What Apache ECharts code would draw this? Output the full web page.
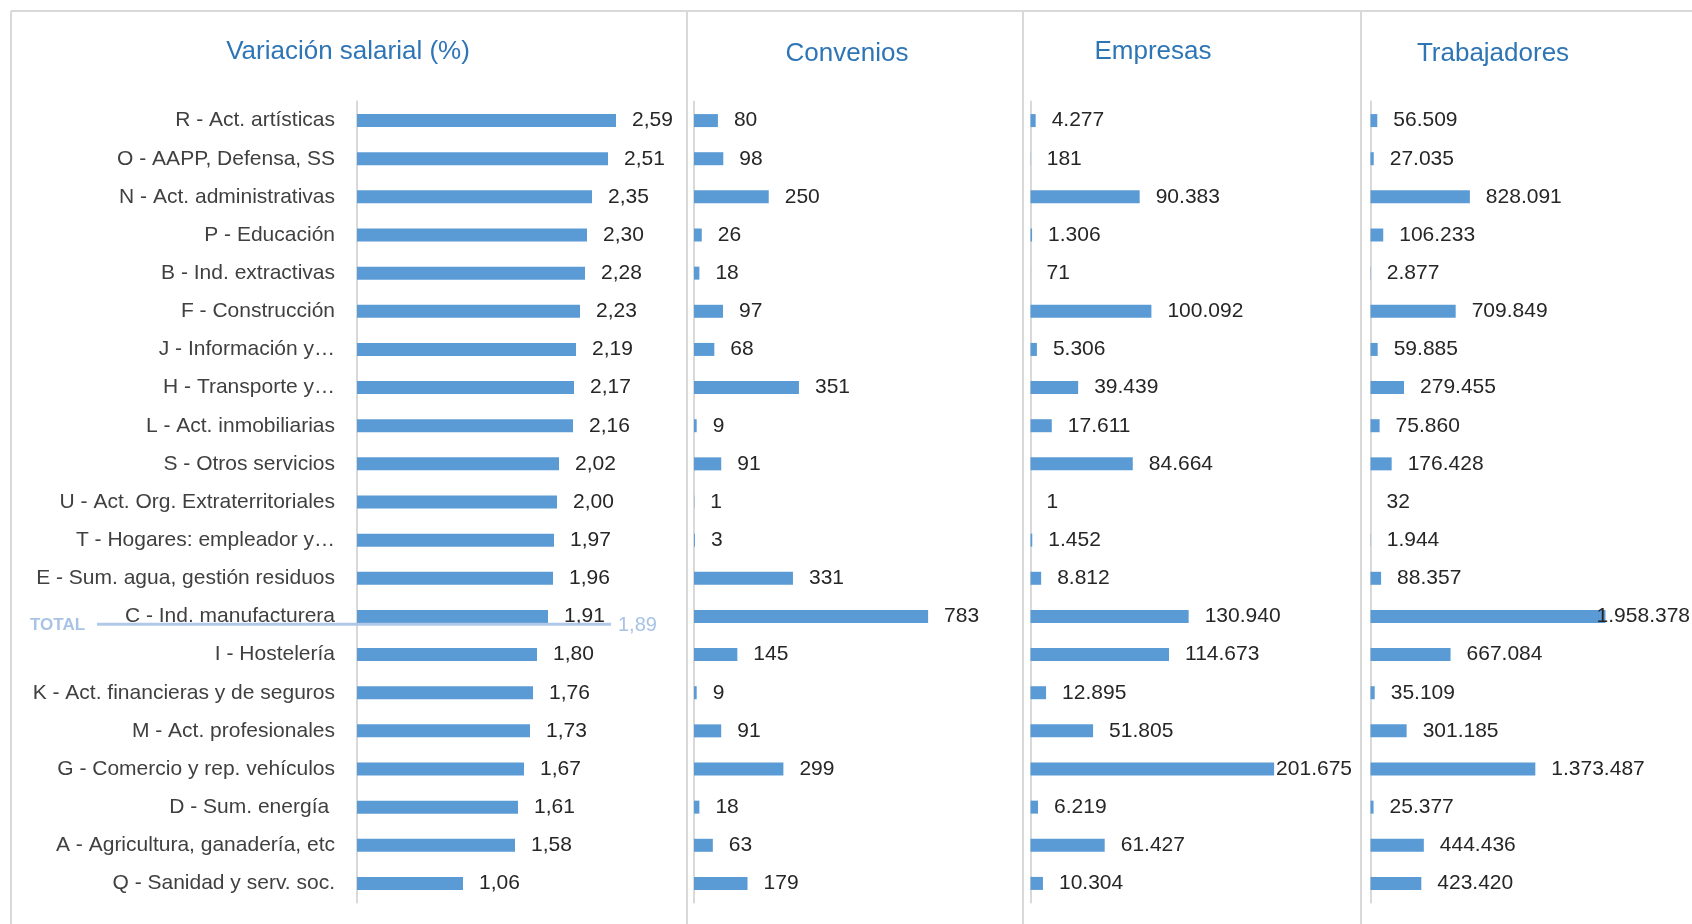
<!DOCTYPE html>
<html><head><meta charset="utf-8">
<script src="https://cdn.jsdelivr.net/npm/echarts@6/dist/echarts.min.js"></script>
<style>html,body{margin:0;padding:0;background:#fff}#c{width:1692px;height:924px}</style>
</head><body><div id="c"></div><script>
const categories = ['R - Act. artísticas', 'O - AAPP, Defensa, SS', 'N - Act. administrativas', 'P - Educación', 'B - Ind. extractivas', 'F - Construcción', 'J - Información y…', 'H - Transporte y…', 'L - Act. inmobiliarias', 'S - Otros servicios', 'U - Act. Org. Extraterritoriales', 'T - Hogares: empleador y…', 'E - Sum. agua, gestión residuos', 'C - Ind. manufacturera', 'I - Hostelería', 'K - Act. financieras y de seguros', 'M - Act. profesionales', 'G - Comercio y rep. vehículos', 'D - Sum. energía ', 'A - Agricultura, ganadería, etc', 'Q - Sanidad y serv. soc.'];
const variacion = [2.59, 2.51, 2.35, 2.30, 2.28, 2.23, 2.19, 2.17, 2.16, 2.02, 2.00, 1.97, 1.96, 1.91, 1.80, 1.76, 1.73, 1.67, 1.61, 1.58, 1.06];
const convenios = [80, 98, 250, 26, 18, 97, 68, 351, 9, 91, 1, 3, 331, 783, 145, 9, 91, 299, 18, 63, 179];
const empresas = [4277, 181, 90383, 1306, 71, 100092, 5306, 39439, 17611, 84664, 1, 1452, 8812, 130940, 114673, 12895, 51805, 201675, 6219, 61427, 10304];
const trabajadores = [56509, 27035, 828091, 106233, 2877, 709849, 59885, 279455, 75860, 176428, 32, 1944, 88357, 1958378, 667084, 35109, 301185, 1373487, 25377, 444436, 423420];
const panelTitles = ['Variación salarial (%)', 'Convenios', 'Empresas', 'Trabajadores'];
const axisMax = [2.8, 1000, 250000, 2500000];
const totalLabel = 'TOTAL';
const totalValue = 1.89;

const FONT = '"Liberation Sans", Arial, sans-serif';
const BLUE = '#5B9BD5';
const TITLE_BLUE = '#2E75B6';
const LIGHT = '#A9C3E6';
const GRAY = '#D9D9D9';

const fmtDec = v => v.toFixed(2).replace('.', ',');
const fmtInt = v => String(Math.round(v)).replace(/\B(?=(\d{3})+(?!\d))/g, '.');

const seriesData = [variacion, convenios, empresas, trabajadores];
const formatters = [fmtDec, fmtInt, fmtInt, fmtInt];

// layout (pixels)
const TOP = 101.5, HEIGHT = 801;
const gridLefts = [357, 694, 1030.5, 1370.5];
const gridWidths = [280, 299, 302, 300];
const titleX = [343, 842, 1148, 1488];
const titleTop = [34, 36, 34, 36];
const labelLimits = [680, 1016, 1352, 1690];
const dividers = [687, 1023, 1361];
const LABEL_GAP = 16;

const chart = echarts.init(document.getElementById('c'), null, {renderer: 'canvas'});

const ctx = document.createElement('canvas').getContext('2d');
ctx.font = '21px ' + FONT;
const textW = s => ctx.measureText(s).width;

function buildOption(offsets) {
  return {
    animation: false,
    backgroundColor: '#fff',
    title: panelTitles.map((t, i) => ({
      text: t, left: titleX[i], top: titleTop[i], textAlign: 'center',
      textStyle: {fontFamily: FONT, fontSize: 26, fontWeight: 'normal', color: TITLE_BLUE}
    })),
    grid: gridLefts.map((l, i) => ({left: l, top: TOP, width: gridWidths[i], height: HEIGHT, containLabel: false})),
    xAxis: axisMax.map((m, i) => ({
      type: 'value', gridIndex: i, min: 0, max: m, show: false
    })),
    yAxis: gridLefts.map((l, i) => ({
      type: 'category', gridIndex: i, data: categories, inverse: true,
      axisLine: {show: true, lineStyle: {color: GRAY, width: 2}},
      axisTick: {show: false},
      axisLabel: {show: i === 0, margin: 22, fontFamily: FONT, fontSize: 21, color: '#404040', interval: 0}
    })),
    series: seriesData.map((d, i) => ({
      type: 'bar', xAxisIndex: i, yAxisIndex: i, barWidth: 13,
      itemStyle: {color: BLUE},
      data: d.map((v, k) => ({
        value: v,
        label: offsets ? {offset: [offsets[i][k], 0]} : undefined
      })),
      label: {
        show: true, position: 'right', distance: LABEL_GAP,
        fontFamily: FONT, fontSize: 21, color: '#262626',
        formatter: p => formatters[i](p.value)
      }
    }))
  };
}

chart.setOption(buildOption(null));

// keep labels inside each panel (like the spreadsheet does)
const offsets = seriesData.map((d, i) => d.map((v, k) => {
  const end = chart.convertToPixel({gridIndex: i}, [v, k])[0];
  const w = textW(formatters[i](v));
  const over = end + LABEL_GAP + w - labelLimits[i];
  return over > 0 ? -over : 0;
}));

const opt = buildOption(offsets);

// TOTAL reference line: positioned between the categories that bracket the total
let idx = variacion.findIndex(v => v < totalValue);
const yA = chart.convertToPixel({gridIndex: 0}, [0, idx - 1])[1];
const yB = chart.convertToPixel({gridIndex: 0}, [0, idx])[1];
const frac = (variacion[idx - 1] - totalValue) / (variacion[idx - 1] - variacion[idx]);
const yT = yA + (yB - yA) * frac + 1;
const lineX0 = 97, lineX1 = 611;

const graphics = [
  {type: 'line', shape: {x1: 11, y1: 11, x2: 1692, y2: 11}, style: {stroke: GRAY, lineWidth: 2}, z: 0},
  {type: 'line', shape: {x1: 11, y1: 11, x2: 11, y2: 924}, style: {stroke: GRAY, lineWidth: 2}, z: 0},
  ...dividers.map(x => ({type: 'line', shape: {x1: x, y1: 11, x2: x, y2: 924}, style: {stroke: GRAY, lineWidth: 2}, z: 0})),
  {type: 'line', shape: {x1: lineX0, y1: yT, x2: lineX1, y2: yT}, style: {stroke: LIGHT, lineWidth: 3, opacity: 0.9}, z: 100},
  {type: 'text', x: 30, y: yT + 1, style: {text: totalLabel, font: 'bold 17px ' + FONT, fill: LIGHT, textVerticalAlign: 'middle', verticalAlign: 'middle'}, z: 100},
  {type: 'text', x: 618, y: yT + 1, style: {text: fmtDec(totalValue), font: '20px ' + FONT, fill: LIGHT, textVerticalAlign: 'middle', verticalAlign: 'middle'}, z: 100}
];
opt.graphic = {elements: graphics};
chart.setOption(opt, true);
</script></body></html>
